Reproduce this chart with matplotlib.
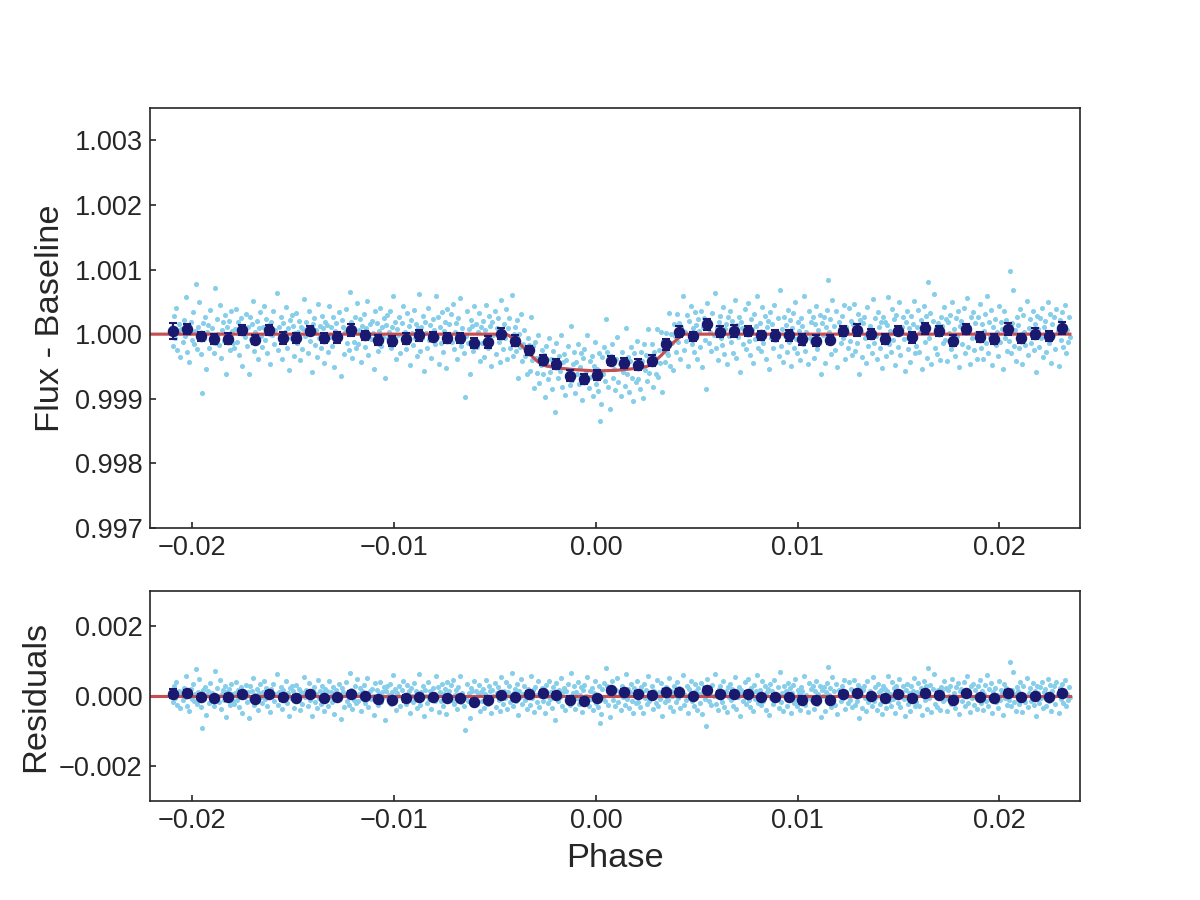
import numpy as np
import matplotlib
matplotlib.use("Agg")
import matplotlib.pyplot as plt
from matplotlib.ticker import FuncFormatter, FixedLocator

# ---------------- data ----------------
# binned points: phase, flux deviation from 1 (x1e-5), residual (x1e-5), error (x1e-5)
bin_phase = [-0.02095, -0.02027, -0.01959, -0.01892, -0.01824, -0.01756, -0.01688, -0.01620,
             -0.01553, -0.01485, -0.01417, -0.01349, -0.01281, -0.01214, -0.01146, -0.01078,
             -0.01010, -0.00942, -0.00875, -0.00807, -0.00739, -0.00671, -0.00603, -0.00536,
             -0.00468, -0.00400, -0.00332, -0.00264, -0.00197, -0.00129, -0.00061, 0.00007,
             0.00075, 0.00142, 0.00210, 0.00278, 0.00346, 0.00414, 0.00481, 0.00549,
             0.00617, 0.00685, 0.00753, 0.00820, 0.00888, 0.00956, 0.01024, 0.01092,
             0.01159, 0.01227, 0.01295, 0.01363, 0.01431, 0.01498, 0.01566, 0.01634,
             0.01702, 0.01770, 0.01837, 0.01905, 0.01973, 0.02041, 0.02109, 0.02176,
             0.02244, 0.02312]
bin_flux_dev = [5, 8, -3, -8, -7, 6, -9, 6, -6, -6, 5, -6, -5, 6, -2, -9, -11, -7, -2, -4,
                -6, -6, -14, -12, 1, -10, -25, -40, -46, -64, -69, -63, -41, -45, -47, -41,
                -16, 4, -3, 15, 4, 5, 5, -2, -2, -2, -8, -10, -9, 5, 6, 0, -7, 5, -5, 9,
                5, -10, 8, -4, -7, 8, -6, 1, -3, 10]
bin_resid = [6, 8, -2, -7, -4, 5, -8, 5, -4, -6, 6, -7, -4, 6, 0, -8, -10, -7, -4, -4,
             -7, -7, -16, -10, 2, -4, 6, 8, 4, -10, -13, -7, 16,
             11, 6, 3, 11, 11, 0, 18, 6, 6, 7, -3, -3, -4, -10, -10, -10, 6, 8, 0, -6,
             7, -6, 8, 4, -10, 8, -4, -7, 8, -4, -1, -4, 8]
bin_err = [13, 8, 7, 8, 9, 8, 7, 8, 9, 8, 7, 8, 8, 9, 7, 8, 8, 9, 8, 7, 8, 8,
           8, 9, 8, 8, 7, 8, 8, 9, 8, 8, 7, 8, 9, 8, 8, 8, 7, 8, 8, 9, 8, 7,
           8, 8, 9, 8, 7, 8, 9, 8, 8, 7, 8, 9, 8, 8, 7, 8, 8, 9, 7, 8, 8, 9]

# transit model curve vertices: phase, flux deviation (x1e-5)
model_phase = [-0.0221, -0.00444, -0.0041, -0.0037, -0.0033, -0.0029, -0.00263, -0.0020,
               -0.0010, 0.0, 0.0010, 0.0020, 0.00253, 0.0029, 0.0033, 0.0037, 0.0041,
               0.00436, 0.0235]
model_dev = [0, 0, -6, -17, -30, -42, -48, -52, -55, -57, -56, -53, -50, -43, -31, -17, -6, 0, 0]

# unbinned residuals (in units of 1.3e-5), regular cadence between these phases
scatter_start = -0.0210
scatter_end = 0.0235
scatter_unit = 1.3e-5
scatter_resid = [
    8, -14, 22, -5, 31, -19, 3, 12, -27, 6, -9, 17, -2, 44, -21, 10, -33, 1, 15, -7, 26, -12, 4, 60, -18, 9, 38, -3, -24, -70,
    13, -6, 20, -41, 2, 11, -16, 29, -4, 7, -22, 55, -10, 18, 0, -13, 35, -28, 5, 14, -8, 23, -47, 9, -1, 16, -19, 27, 4, -11,
    -17, 6, 30, -9, 14, -25, 1, 19, -38, 10, -3, 24, -14, 8, -48, 21, -6, 12, 40, -20, 3, -11, 16, -30, 7, 26, -2, -15, 9, 34,
    -7, 18, -23, 4, 11, -36, 15, -1, 27, -12, 5, 49, -19, 8, -4, 20, -29, 13, -9, 2, 32, -16, 7, -43, 17, -5, 23, 10, -26, 1,
    25, -10, 3, 16, -31, 9, -18, 6, 42, -2, 14, -22, 28, -8, 1, -45, 12, 19, -13, 5, -27, 36, -4, 10, -17, 22, 7, -34, 15, -6,
    11, -21, 33, -3, 8, -14, 20, -39, 4, 13, -7, 26, -1, -50, 17, 9, -24, 2, 30, -11, 6, -19, 50, 14, -28, 3, -9, 21, -16, 37,
    -12, 5, 18, -33, 10, -2, 24, -15, 7, 39, -25, 12, -6, 16, 1, -41, 28, -8, 13, -20, 4, 31, -14, 9, -3, 19, -52, 11, 23, -5,
    2, 27, -17, 8, 46, -11, 15, -30, 6, -1, 21, -23, 13, 34, -9, 3, -18, 25, -6, 10, -37, 17, 1, -13, 29, -4, 12, -26, 7, 48,
    -20, 9, -4, 22, -44, 14, 1, -16, 31, -7, 11, -28, 18, 5, -12, 45, -3, 20, -35, 8, -10, 26, -21, 4, 15, -40, 30, -6, 12, -1,
    24, -9, 36, -18, 3, 13, -29, 19, -5, 43, -14, 7, -23, -75, -2, 27, -11, 6, -48, 17, 10, -20, 33, -7, 12, -15, 2, 25, -32, 8,
    -11, 16, -27, 5, 35, -3, -17, 22, 10, -38, 14, -1, 28, -24, 7, 19, -9, -33, 41, 4, -18, 12, -5, 30, -29, 9, 21, -14, 1, 50,
    -22, 6, 15, -12, 26, -42, 11, -3, 37, -17, 4, 22, -8, -28, 16, 9, -20, 45, -5, 13, -36, 20, 2, -14, 32, -25, 7, -1, 18, -10,
    13, -37, 24, 1, -15, 34, -6, 9, -26, 19, 5, -53, 29, -12, 14, -3, 40, -22, 8, 17, -31, 11, -9, 27, -2, -19, 51, -13, 6, 21,
    -28, 9, -5, 31, -17, 3, 20, -35, 14, 25, -10, -1, 42, -21, 11, -7, 17, -30, 6, 34, -15, 2, -24, 21, -60, -39, 16, -4, 28, -12,
    62, 22, -19, 10, -46, 17, 32, -9, 2, -23, 13, 39, -14, 7, -31, 21, -3, 12, -20, 49, -6, 15, -27, 9, 26, -11, -38, 18, 3, -16,
    33, -13, 6, -25, 19, 8, -37, 27, -4, 14, -18, 43, -10, 1, 23, -29, 12, 4, -16, 36, -22, 9, -7, 28, -44, 15, 2, -13, 20, -5,
    -9, 40, -24, 12, 1, -33, 21, 6, -14, 30, -4, 17, -27, 10, 47, -19, 3, -8, 23, -38, 16, -1, 34, -12, 7, -21, 26, 11, -30, 18,
    4, -15, 28, -39, 9, 19, -7, -65, 37, 13, -10, 3, -20, 25, -1, 49, -17, 8, -31, 15, 22, -5, -13, 32, -24, 6, 12, -36, 20, -2,
    27, -9, 16, -22, 5, 41, -28, 11, -3, 20, -45, 14, 7, -12, 30, -18, 2, 37, -8, -25, 18, 6, -34, 24, -6, 10, 46, -16, 0, 13,
    -20, 32, -11, 3, 22, -30, 9, 16, -41, 26, -4, 12, -17, 35, -7, 1, 19, -26, 53, -14, 6, -33, 21, -1, 11, -21, 29, -9, 17, -38,
    7, 25, -16, 38, -6, -23, 14, 4, -31, 19, 10, -12, 45, -20, 3, -36, 28, -4, 15, -9, 21, -28, 12, 34, -18, 5, -10, 23, -47, 13,
    -1, 20, -34, 8, 29, 64, 2, 18, -24, 41, -7, 10, -19, 27, -39, 14, 6, -11, 22, -4, 35, -29, 9, 1, -16, 31, -8, 16, -25, 12,
    36, -20, 7, -10, 24, -48, 17, 3, -27, 13, 21, -5, -34, 32, -14, 10, 1, -22, 42, -11, 19, -2, -30, 26, 8, -17, 14, -40, 21, -6,
    15, -26, 11, 44, -12, 4, -21, 30, -7, 18, -37, 23, 1, -15, 38, -25, 9, 21, -6, -44, 14, 27, -18, 7, -33, 22, -3, 12, 39, -23,
    -14, 8, 29, -21, 2, 17, -41, 11, 34, -9, 22, -28, 62, -4, 25, -35, 16, 48, -17, 7, -24, 13, 3, -31, 20, 10, -11, 32, -7, 18,
    -32, 14, 1, 23, -18, 38, -8, 6, -26, 19, -2, 28, -39, 10, 16, -12, 31, -22, 4, 43, -15, 9, -35, 21, -5, 26, -19, 13, 1, -29,
    21, -7, 36, -16, 12, -30, 4, 24, -10, 46, -23, 15, -3, 29, -37, 8, 18, -13, 2, -26, 33, -9, 14, 6, -42, 27, -4, 17, -20, 10,
    -8, 75, -22, 13, 52, -14, 5, -32, 20, 11, -17, 30, -6, -36, 23, 3, -13, 39, -25, 7, 18, -10, -2, 28, -19, 12, -45, 22, 6, -15,
    19, -4, 31, -27, 9, 16, -21, 2, 38, -11, 24, -34, 12, -1, 21, -18, 30, 4, -38, 17, -7, 26, -15, 10, 35, -23, 5, -9, 20, -3,
]

top_yticks = [0.997, 0.998, 0.999, 1.000, 1.001, 1.002, 1.003]
res_yticks = [-0.002, 0.000, 0.002]
xticks = [-0.02, -0.01, 0.00, 0.01, 0.02]

# ---------------- style ----------------
plt.rcParams["font.family"] = ["Liberation Sans", "DejaVu Sans"]
dark = "#262626"
plt.rcParams.update({
    "text.color": dark, "axes.labelcolor": dark, "axes.edgecolor": dark,
    "xtick.color": dark, "ytick.color": dark, "axes.linewidth": 0.8,
})

c_scatter = "#87CEEB"
c_bin = "#191970"
c_model = "#C44E52"

SCALE = 1e-5
resid = np.array(scatter_resid) * scatter_unit
s_phase = np.linspace(scatter_start, scatter_end, len(resid))
m_phase = np.array(model_phase)
m_flux = 1.0 + np.array(model_dev) * SCALE
s_flux = np.interp(s_phase, m_phase, m_flux) + resid
b_phase = np.array(bin_phase)
b_flux = 1.0 + np.array(bin_flux_dev) * SCALE
b_res = np.array(bin_resid) * SCALE
b_err = np.array(bin_err) * SCALE

fig, (ax1, ax2) = plt.subplots(2, 1, figsize=(8, 6), dpi=150,
                               gridspec_kw={"height_ratios": [2, 1], "hspace": 0.2})

ax1.scatter(s_phase, s_flux, s=6, color=c_scatter, linewidths=0, zorder=1)
ax1.plot(m_phase, m_flux, color=c_model, lw=1.5, zorder=2)
ax1.errorbar(b_phase, b_flux, yerr=b_err, fmt="o", color=c_bin, ms=4.5,
             capsize=2, elinewidth=1, capthick=1, zorder=3)

ax2.scatter(s_phase, resid, s=6, color=c_scatter, linewidths=0, zorder=1)
ax2.plot(m_phase, np.zeros_like(m_phase), color=c_model, lw=1.5, zorder=2)
ax2.errorbar(b_phase, b_res, yerr=b_err, fmt="o", color=c_bin, ms=4.5,
             capsize=2, elinewidth=1, capthick=1, zorder=3)

def fmt(dec):
    return FuncFormatter(lambda v, p: f"{v:.{dec}f}".replace("-", "\u2212"))

for ax in (ax1, ax2):
    ax.set_xlim(-0.0221, 0.0240)
    ax.xaxis.set_major_locator(FixedLocator(xticks))
    ax.xaxis.set_major_formatter(fmt(2))
    ax.tick_params(direction="in", length=3, width=0.8, labelsize=13)

ax1.set_ylim(0.997, 1.0035)
ax1.yaxis.set_major_locator(FixedLocator(top_yticks))
ax1.yaxis.set_major_formatter(fmt(3))
ax2.set_ylim(-0.003, 0.003)
ax2.yaxis.set_major_locator(FixedLocator(res_yticks))
ax2.yaxis.set_major_formatter(fmt(3))

ax1.set_ylabel("Flux - Baseline", fontsize=16.5)
ax2.set_ylabel("Residuals", fontsize=16.5)
ax2.set_xlabel("Phase", fontsize=16.5)

fig.savefig("out.png", dpi=150)
